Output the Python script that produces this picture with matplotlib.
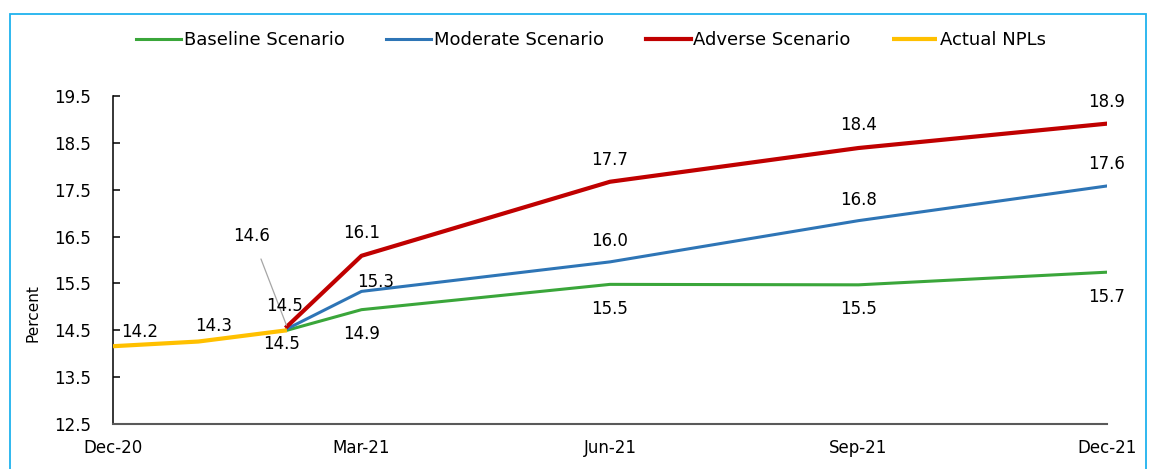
import matplotlib
matplotlib.use("Agg")
import matplotlib.pyplot as plt
from matplotlib.patches import Rectangle

plt.rcParams["font.family"] = ["DejaVu Sans"]

# ---- data ----
quarter_ticks = [0, 3, 6, 9, 12]
quarter_labels = ["Dec-20", "Mar-21", "Jun-21", "Sep-21", "Dec-21"]

actual_x = [0, 1.03, 2.1]
actual_npl = [14.16, 14.26, 14.5]

scen_x = [2.1, 3, 6, 9, 12]
baseline = [14.5, 14.94, 15.48, 15.47, 15.74]
moderate = [14.53, 15.33, 15.96, 16.84, 17.58]
adverse = [14.58, 16.09, 17.67, 18.39, 18.91]

# ---- styles / label offsets (pixels) ----
C_BASE, C_MOD, C_ADV, C_ACT = "#3AA63A", "#2E75B6", "#C00000", "#FFC000"
off_adv = [(-35, 91), (0, 23), (0, 22), (0, 23), (0, 22)]
off_mod = [(-2, 23), (14, 9), (0, 21), (0, 21), (0, 22)]
off_base = [None, (0, -24), (0, -25), (0, -24), (0, -25)]
off_act = [(27, 14), (15, 16), (-5, -14)]

W, H = 1150, 469
fig = plt.figure(figsize=(W / 100, H / 100), dpi=100)
ax = fig.add_axes([113 / W, (H - 424) / H, 994 / W, 328 / H])

lb, = ax.plot(scen_x, baseline, color=C_BASE, lw=2.2, label="Baseline Scenario", zorder=3)
lm, = ax.plot(scen_x, moderate, color=C_MOD, lw=2.2, label="Moderate Scenario", zorder=4)
la, = ax.plot(scen_x, adverse, color=C_ADV, lw=3.0, label="Adverse Scenario", zorder=5)
lc, = ax.plot(actual_x, actual_npl, color=C_ACT, lw=3.0, label="Actual NPLs", zorder=6,
              solid_capstyle="butt")

FS = 12
def lab(xs, ys, offs, leader_idx=None):
    for i, (x, y) in enumerate(zip(xs, ys)):
        o = offs[i]
        if o is None:
            continue
        if i == leader_idx:
            ax.annotate(f"{y:.1f}", xy=(x, y), xytext=o, textcoords="offset pixels",
                        ha="center", va="center", fontsize=FS, zorder=7,
                        arrowprops=dict(arrowstyle="-", color="#A6A6A6", lw=0.9,
                                        shrinkA=9, shrinkB=1))
        else:
            ax.annotate(f"{y:.1f}", xy=(x, y), xytext=o, textcoords="offset pixels",
                        ha="center", va="center", fontsize=FS, zorder=7)

lab(scen_x, adverse, off_adv, leader_idx=0)
lab(scen_x, moderate, off_mod)
lab(scen_x, baseline, off_base)
lab(actual_x, actual_npl, off_act)

ax.set_xlim(quarter_ticks[0], quarter_ticks[-1])
ax.set_ylim(12.5, 19.5)
ax.set_yticks([12.5, 13.5, 14.5, 15.5, 16.5, 17.5, 18.5, 19.5])
ax.set_xticks(quarter_ticks)
ax.set_xticklabels(quarter_labels)
ax.tick_params(axis="y", direction="in", length=5, width=1.1, labelsize=FS, pad=16, colors="black")
ax.tick_params(axis="x", length=0, labelsize=FS, pad=11)
for s in ["top", "right"]:
    ax.spines[s].set_visible(False)
ax.spines["left"].set_color("black")
ax.spines["left"].set_linewidth(1.1)
ax.spines["bottom"].set_color("#595959")
ax.spines["bottom"].set_linewidth(1.5)
ax.set_ylabel("Percent", fontsize=11)
ax.yaxis.set_label_coords(-0.0734, 0.338)

fig.legend(handles=[lb, lm, la, lc], loc="center", bbox_to_anchor=(591 / W, 1 - 40 / H),
           ncol=4, frameon=False, fontsize=13, handlelength=2.5, handletextpad=0.15,
           columnspacing=2.3)

fig.patches.append(Rectangle((9.5 / W, -0.02), (1146 - 9.5) / W, 1.02 - 14.5 / H,
                             transform=fig.transFigure, fill=False,
                             edgecolor="#1FB2EE", lw=1.3))

fig.savefig("out.png", dpi=100)
